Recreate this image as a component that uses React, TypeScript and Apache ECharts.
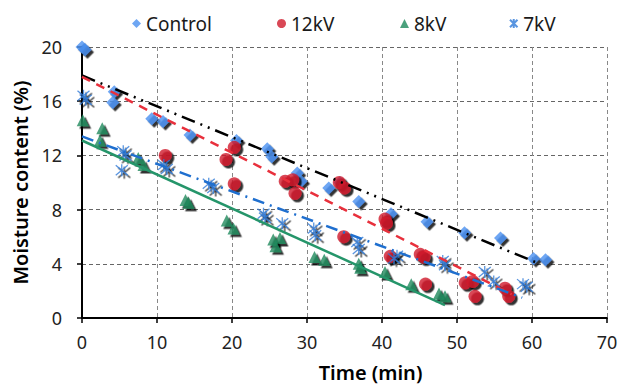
import React, { useEffect, useRef } from "react";
import * as echarts from "echarts";

// Time (min), moisture content (%)
const controlData: number[][] = [
  [0, 20.0], [0.4, 19.8], [4.3, 16.7], [4.1, 15.9], [9.3, 14.7], [10.8, 14.5],
  [14.4, 13.5], [20.6, 13.1], [24.7, 12.5], [25.3, 11.9], [28.7, 10.7], [29.2, 10.1],
  [32.9, 9.6], [34.4, 10.0], [36.9, 8.6], [41.2, 7.7], [46.0, 7.1], [51.0, 6.3],
  [55.8, 5.9], [60.2, 4.4], [61.8, 4.3],
];
const kv12Data: number[][] = [
  [11.1, 12.0], [19.2, 11.7], [20.3, 12.6], [20.3, 9.9], [27.1, 10.1], [28.1, 10.2],
  [28.4, 9.2], [34.3, 10.0], [35.0, 9.6], [34.9, 6.0], [40.4, 7.3], [40.6, 7.0],
  [41.1, 4.55], [45.1, 4.7], [45.6, 4.5], [45.8, 2.5], [51.1, 2.6], [52.1, 2.7],
  [52.4, 1.6], [56.4, 2.2], [56.9, 1.6],
];
const kv8Data: number[][] = [
  [0.1, 14.6], [2.7, 14.0], [2.4, 13.1], [7.5, 11.8], [8.2, 11.3], [13.8, 8.7],
  [14.2, 8.5], [19.3, 7.2], [20.2, 6.6], [25.5, 5.8], [26.4, 5.9], [25.8, 5.3],
  [31.0, 4.5], [32.3, 4.3], [36.9, 4.0], [37.1, 3.7], [40.4, 3.4], [43.9, 2.5],
  [47.6, 1.8], [48.4, 1.6],
];
const kv7Data: number[][] = [
  [0.2, 16.4], [0.5, 16.1], [5.5, 12.3], [5.8, 12.0], [5.3, 10.9], [10.9, 11.3],
  [11.3, 11.0], [16.9, 9.9], [17.5, 9.6], [24.2, 7.7], [24.4, 7.4], [26.7, 7.0],
  [30.9, 6.6], [31.1, 6.1], [36.7, 5.6], [36.9, 5.1], [42.0, 4.6], [41.6, 4.4],
  [48.1, 4.2], [48.4, 3.9], [53.7, 3.4], [54.9, 2.7], [58.8, 2.5], [59.3, 2.3],
];
// Linear trend lines (endpoints)
const trendControl: number[][] = [[0, 17.9], [61, 4.0]];
const trend12: number[][] = [[0, 17.8], [57.3, 1.75]];
const trend8: number[][] = [[0, 13.1], [48.4, 0.95]];
const trend7: number[][] = [[0, 13.4], [58.7, 1.5]];

const seriesNames = ["Control", "12kV", "8kV", "7kV"];
const xTicks = { min: 0, max: 70, interval: 10 };
const yTicks = { min: 0, max: 20, interval: 4 };

const FONT = "Noto Sans";
const shadow = { shadowColor: "#000", shadowBlur: 0, shadowOffsetX: 2.5, shadowOffsetY: 2.5 };
const noShadow = { shadowColor: "transparent", shadowBlur: 0, shadowOffsetX: 0, shadowOffsetY: 0 };
const starPath = "path://M0 0 L10 10 M0 10 L10 0 M5 -1 L5 11";
const legendLefts = [127, 272, 395, 504];

export default function App() {
  const ref = useRef<HTMLDivElement>(null);
  useEffect(() => {
    if (!ref.current) return;
    const chart = echarts.init(ref.current, undefined, { renderer: "svg" });
    chart.setOption({
      animation: false,
      textStyle: { fontFamily: FONT },
      legend: seriesNames.map((n, i) => ({
        data: [{ name: n, itemStyle: noShadow }],
        left: legendLefts[i],
        top: 9,
        itemWidth: 9,
        itemHeight: 9,
        textStyle: { fontSize: 19, color: "#1a1a1a", fontFamily: FONT },
      })),
      grid: { left: 82, right: 15, top: 47, bottom: 68 },
      xAxis: {
        type: "value",
        min: xTicks.min,
        max: xTicks.max,
        interval: xTicks.interval,
        name: "Time (min)",
        nameLocation: "middle",
        nameGap: 44,
        nameTextStyle: {
          fontSize: 20, fontWeight: 600, color: "#000", fontFamily: FONT,
          padding: [0, 0, 0, 52],
        },
        axisLine: { lineStyle: { color: "#000", width: 2 } },
        axisTick: { show: true, length: 5, lineStyle: { color: "#000", width: 1.5 } },
        axisLabel: { fontSize: 18, color: "#222", margin: 15, fontFamily: FONT },
        splitLine: { show: true, lineStyle: { type: [4, 3], color: "#888", width: 1 } },
      },
      yAxis: {
        type: "value",
        min: yTicks.min,
        max: yTicks.max,
        interval: yTicks.interval,
        name: "Moisture content (%)",
        nameLocation: "middle",
        nameGap: 47,
        nameRotate: 90,
        nameTextStyle: { fontSize: 20, fontWeight: 600, color: "#000", fontFamily: FONT },
        axisLine: { show: true, lineStyle: { color: "#000", width: 2 } },
        axisTick: { show: true, length: 5, lineStyle: { color: "#000", width: 1.5 } },
        axisLabel: { fontSize: 18, color: "#222", margin: 20, fontFamily: FONT },
        splitLine: { show: true, lineStyle: { type: [4, 3], color: "#666", width: 1 } },
      },
      series: [
        {
          name: "Linear (Control)", type: "line", data: trendControl, symbol: "none", silent: true,
          lineStyle: { color: "#000", width: 2.5, type: [14, 6, 2, 6, 2, 6] }, z: 3,
        },
        {
          name: "Linear (12kV)", type: "line", data: trend12, symbol: "none", silent: true,
          lineStyle: { color: "#E8303C", width: 2.5, type: [9, 7] }, z: 3,
        },
        {
          name: "Linear (8kV)", type: "line", data: trend8, symbol: "none", silent: true,
          lineStyle: { color: "#25956A", width: 2.5, type: "solid" }, z: 3,
        },
        {
          name: "Linear (7kV)", type: "line", data: trend7, symbol: "none", silent: true,
          lineStyle: { color: "#1F6FCF", width: 2.5, type: [12, 6, 2, 6] }, z: 3,
        },
        {
          name: "Control", type: "scatter", data: controlData, symbol: "diamond", symbolSize: 13,
          itemStyle: { color: "#4A90F0", ...shadow }, z: 2,
        },
        {
          name: "12kV", type: "scatter", data: kv12Data, symbol: "circle", symbolSize: 13,
          itemStyle: { color: "#D01A2C", ...shadow }, z: 2,
        },
        {
          name: "8kV", type: "scatter", data: kv8Data, symbol: "triangle", symbolSize: 12,
          itemStyle: { color: "#1E8A5C", ...shadow }, z: 2,
        },
        {
          name: "7kV", type: "scatter", data: kv7Data, symbol: starPath, symbolSize: 12,
          itemStyle: { color: "transparent", borderColor: "#2F7BD8", borderWidth: 1.3, ...shadow }, z: 2,
        },
      ],
    });
    return () => chart.dispose();
  }, []);
  return (
    <div
      ref={ref}
      style={{ position: "absolute", left: 0, top: 0, width: 622, height: 387, background: "#fff" }}
    />
  );
}
